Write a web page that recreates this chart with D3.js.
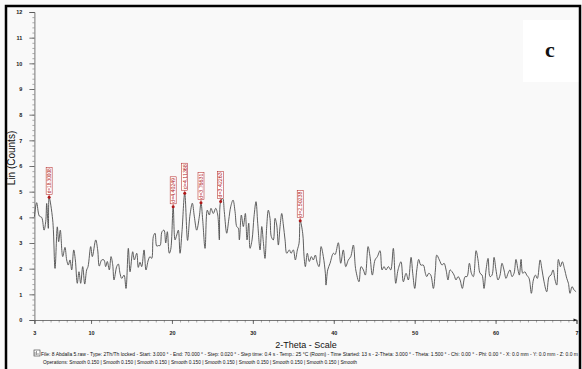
<!DOCTYPE html>
<html>
<head>
<meta charset="utf-8">
<script src="https://cdn.jsdelivr.net/npm/d3@7/dist/d3.min.js"></script>
<style>
  html, body { margin: 0; padding: 0; background: #f9f9f9; }
  svg { display: block; }
  text { font-family: "Liberation Sans", Arial, sans-serif; }
</style>
</head>
<body>
<svg id="chart" width="582" height="369"></svg>
<script>
// Diffraction pattern: 2-theta (degrees) and intensity (Lin counts, thousands)
const twoTheta = [
  3.00, 3.28, 3.61, 3.90, 4.19, 4.40, 4.52, 4.72, 4.82, 5.26, 5.55, 5.83, 6.00, 6.20, 6.50, 6.78,
  6.99, 7.19, 7.40, 7.61, 7.86, 8.06, 8.30, 8.51, 8.72, 8.97, 9.22, 9.46, 9.63, 9.96, 10.16, 10.58,
  10.82, 11.02, 11.32, 11.60, 11.81, 12.01, 12.26, 12.47, 12.68, 12.84, 13.17, 13.37, 13.58, 13.79,
  14.08, 14.32, 14.61, 14.82, 15.15, 15.35, 15.65, 15.84, 16.05, 16.26, 16.55, 16.79, 17.08, 17.29,
  17.50, 17.70, 17.91, 18.12, 18.32, 18.53, 18.77, 19.02, 19.23, 19.43, 19.67, 19.85, 20.15, 20.38,
  20.59, 20.79, 21.00, 21.24, 21.58, 21.93, 22.23, 22.52, 22.77, 23.06, 23.38, 23.59, 23.80, 24.09,
  24.37, 24.62, 24.83, 25.11, 25.41, 25.66, 25.86, 26.02, 26.28, 26.47, 26.77, 27.02, 27.26, 27.55,
  27.80, 28.01, 28.20, 28.33, 28.58, 28.82, 29.07, 29.28, 29.49, 29.65, 29.90, 30.14, 30.39, 30.60,
  30.89, 31.10, 31.29, 31.50, 31.71, 31.91, 32.12, 32.28, 32.53, 32.74, 32.95, 33.15, 33.36, 33.57,
  33.77, 33.98, 34.19, 34.51, 34.72, 35.00, 35.25, 35.50, 35.71, 35.85, 36.16, 36.33, 36.49, 36.73,
  36.98, 37.23, 37.47, 37.72, 37.97, 38.18, 38.43, 38.71, 38.96, 39.04, 39.25, 39.54, 39.95, 40.16,
  40.56, 40.86, 41.18, 41.48, 41.80, 42.10, 42.42, 42.72, 43.12, 43.37, 43.66, 43.90, 44.24, 44.48,
  44.77, 45.10, 45.39, 45.72, 45.97, 46.21, 46.46, 46.75, 47.04, 47.36, 47.66, 47.94, 48.31, 48.60,
  48.93, 49.22, 49.55, 49.76, 50.01, 50.26, 50.50, 50.75, 51.07, 51.32, 51.49, 51.74, 51.99, 52.31,
  52.56, 52.73, 53.05, 53.38, 53.63, 53.88, 54.12, 54.37, 54.62, 54.87, 55.11, 55.36, 55.61, 55.89,
  56.23, 56.47, 56.76, 57.01, 57.25, 57.59, 57.83, 58.08, 58.33, 58.57, 58.82, 59.07, 59.31, 59.56,
  59.81, 60.05, 60.30, 60.55, 60.79, 61.04, 61.29, 61.54, 61.78, 62.03, 62.28, 62.52, 62.77, 62.94,
  63.15, 63.36, 63.61, 63.85, 64.14, 64.42, 64.67, 64.92, 65.16, 65.50, 65.74, 65.99, 66.32, 66.61,
  66.85, 67.10, 67.35, 67.56, 67.76, 68.01, 68.25, 68.50, 68.80, 69.00, 69.20, 69.45, 69.70, 69.95
];
const counts = [
  4.02, 4.57, 4.05, 4.00, 3.50, 3.83, 4.54, 3.57, 4.78, 3.90, 2.01, 3.63, 3.05, 3.50, 2.47, 2.83,
  2.34, 2.14, 2.34, 1.95, 2.73, 2.34, 1.43, 1.88, 1.43, 2.08, 1.40, 1.95, 2.08, 2.86, 2.47, 3.12,
  2.73, 2.10, 2.34, 2.34, 2.08, 2.28, 1.95, 2.47, 2.15, 1.56, 2.08, 2.18, 1.82, 1.62,
  1.75, 1.23, 2.79, 1.88, 2.66, 2.34, 2.60, 2.05, 2.25, 2.08, 2.73, 1.95, 2.34, 2.47,
  2.40, 3.25, 3.38, 2.88, 2.90, 2.90, 3.44, 3.50, 3.00, 3.44, 2.60, 2.75, 4.41, 3.12,
  3.31, 3.50, 2.60, 3.44, 4.94, 3.10, 4.09, 4.55, 4.02, 3.50, 4.02, 4.57, 3.90, 2.79,
  4.28, 4.09, 4.35, 4.15, 4.35, 4.09, 3.12, 4.62, 4.74, 4.22, 3.38, 3.90, 4.41, 4.67,
  4.22, 3.64, 3.58, 3.12, 4.09, 3.64, 4.15, 3.12, 3.77, 2.79, 3.12, 4.02, 4.61, 3.77,
  2.73, 3.64, 3.06, 2.40, 3.63, 4.28, 3.96, 3.25, 3.12, 3.96, 3.70, 2.92, 3.64, 4.15,
  3.70, 3.12, 2.60, 2.73, 2.60, 2.73, 2.34, 2.73, 2.99, 3.87, 3.38, 2.47, 2.08, 2.60,
  2.28, 2.47, 2.34, 2.53, 2.21, 2.08, 2.86, 2.47, 1.82, 1.36, 1.95, 2.21, 2.60, 2.55,
  3.01, 2.21, 2.73, 2.08, 2.34, 2.47, 2.92, 1.95, 1.49, 2.08, 1.95, 1.75, 2.86, 2.47,
  1.75, 2.34, 2.47, 2.70, 1.95, 2.08, 1.95, 2.08, 1.95, 2.79, 1.43, 1.95, 2.27, 1.49,
  1.82, 1.56, 2.44, 1.82, 1.23, 1.95, 2.36, 2.14, 2.14, 1.82, 1.69, 1.82, 1.75, 1.23,
  1.95, 2.53, 2.34, 2.14, 2.21, 1.95, 1.56, 1.95, 1.88, 1.75, 1.56, 1.69, 1.56, 1.23,
  1.69, 1.69, 2.21, 1.82, 1.69, 2.70, 2.34, 1.82, 1.75, 1.23, 1.95, 2.40, 1.69, 1.75,
  2.44, 1.95, 1.56, 1.75, 2.21, 1.95, 1.62, 1.82, 1.95, 1.69, 1.82, 2.36, 1.95, 1.75,
  2.36, 1.82, 1.88, 1.75, 1.62, 1.04, 1.56, 1.75, 1.62, 2.34, 1.95, 1.49, 1.10, 1.69,
  1.75, 1.95, 1.56, 1.36, 2.36, 2.08, 2.27, 2.01, 1.62, 1.43, 1.04, 1.30, 1.17, 1.10
];

// Labelled reflections (d-spacings in Angstrom)
const peakLabels = ["d=18.30008", "d=4.40249", "d=4.11368", "d=3.76631", "d=3.42263", "d=2.50238"];
const peakTheta  = [4.82, 20.15, 21.58, 23.59, 26.02, 35.85];
const peakCounts = [4.78, 4.41, 4.94, 4.57, 4.62, 3.87];

// Axis ticks
const xTickValues = [3, 10, 20, 30, 40, 50, 60, 70];
const xTickLabels = ["3", "10", "20", "30", "40", "50", "60", "7"];
const yTickValues = [0, 1, 2, 3, 4, 5, 6, 7, 8, 9, 10, 11, 12];

const footerLine1 = "File: 8 Abdalla 5.raw - Type: 2Th/Th locked - Start: 3.000 ° - End: 70.000 ° - Step: 0.020 ° - Step time: 0.4 s - Temp.: 25 °C (Room) - Time Started: 13 s - 2-Theta: 3.000 ° - Theta: 1.500 ° - Chi: 0.00 ° - Phi: 0.00 ° - X: 0.0 mm - Y: 0.0 mm - Z: 0.0 m";
const footerLine2 = "Operations: Smooth 0.150 | Smooth 0.150 | Smooth 0.150 | Smooth 0.150 | Smooth 0.150 | Smooth 0.150 | Smooth 0.150 | Smooth 0.150 | Smooth";

const svg = d3.select("#chart");

const x = d3.scaleLinear().domain([3, 70]).range([34.4, 576.5]);
const y = d3.scaleLinear().domain([0, 12]).range([320, 12]);

// panel tag box
svg.append("rect").attr("x", 523).attr("y", 20).attr("width", 57).attr("height", 62).attr("fill", "#ffffff");
svg.append("text").attr("x", 550).attr("y", 57).attr("text-anchor", "middle")
  .style("font-family", "'Liberation Serif', 'DejaVu Serif', serif")
  .style("font-weight", "bold").style("font-size", "22px").attr("fill", "#111").text("c");

// Y axis: major + minor ticks
const yMinor = d3.range(0, 12.001, 0.2);
svg.append("g").attr("transform", `translate(${x(3)},0)`)
  .call(d3.axisLeft(y).tickValues(yMinor).tickSize(2).tickFormat(""))
  .call(g => g.select(".domain").remove())
  .selectAll("line").attr("stroke", "#777").attr("stroke-width", 0.6);
const yAxis = svg.append("g").attr("transform", `translate(${x(3)},0)`)
  .call(d3.axisLeft(y).tickValues(yTickValues).tickSize(5).tickPadding(7).tickFormat(d3.format("d")));
yAxis.select(".domain").attr("stroke", "#555").attr("stroke-width", 0.8);
yAxis.selectAll("line").attr("stroke", "#555").attr("stroke-width", 0.8);
yAxis.selectAll("text").style("font-size", "5.5px").style("font-weight", "bold").attr("fill", "#222");

// X axis: minor every degree, major at labels
const xMinor = d3.range(3, 70.001, 1);
svg.append("g").attr("transform", `translate(0,${y(0)})`)
  .call(d3.axisBottom(x).tickValues(xMinor).tickSize(2.5).tickFormat(""))
  .call(g => g.select(".domain").remove())
  .selectAll("line").attr("stroke", "#777").attr("stroke-width", 0.6);
const xAxis = svg.append("g").attr("transform", `translate(0,${y(0)})`)
  .call(d3.axisBottom(x).tickValues(xTickValues).tickSize(4).tickPadding(7)
    .tickFormat((d, i) => xTickLabels[i]));
xAxis.select(".domain").attr("stroke", "#555").attr("stroke-width", 0.8);
xAxis.selectAll("line").attr("stroke", "#555").attr("stroke-width", 0.8);
xAxis.selectAll("text").style("font-size", "5.5px").style("font-weight", "bold").attr("fill", "#222");
svg.append("path")
  .attr("d", `M${x(70) - 3},${y(0) - 1.6}L${x(70) + 1},${y(0)}L${x(70) - 3},${y(0) + 1.6}Z`)
  .attr("fill", "#222");

// Axis titles
svg.append("text").attr("transform", `translate(15,158) rotate(-90)`)
  .attr("text-anchor", "middle").style("font-size", "10px").attr("fill", "#111").text("Lin (Counts)");
svg.append("text").attr("x", 306).attr("y", 348).attr("text-anchor", "middle")
  .style("font-size", "9px").attr("fill", "#111").text("2-Theta - Scale");

// Pattern trace
const pts = twoTheta.map((t, i) => [t, counts[i]]);
svg.append("path").datum(pts)
  .attr("fill", "none").attr("stroke", "#4d4d4d").attr("stroke-width", 0.9)
  .attr("d", d3.line().x(d => x(d[0])).y(d => y(d[1])).curve(d3.curveCatmullRom.alpha(0.5)));

// Peak markers with rotated d-spacing tags
const tagH = 27, tagW = 6, gap = 3;
const peaks = svg.append("g").selectAll("g").data(peakLabels).join("g")
  .attr("transform", (d, i) => `translate(${x(peakTheta[i])},${y(peakCounts[i])})`);
peaks.append("line").attr("x1", 0).attr("x2", 0).attr("y1", 0).attr("y2", -gap)
  .attr("stroke", "#b01818").attr("stroke-width", 0.6);
peaks.append("rect").attr("x", -tagW / 2).attr("y", -gap - tagH).attr("width", tagW).attr("height", tagH)
  .attr("fill", "#fff").attr("stroke", "#b01818").attr("stroke-width", 0.5);
peaks.append("text").attr("transform", `translate(1.8,${-gap - tagH / 2}) rotate(-90)`)
  .attr("text-anchor", "middle").style("font-size", "5px").attr("fill", "#b01818")
  .attr("textLength", tagH - 2).attr("lengthAdjust", "spacingAndGlyphs").text(d => d);
peaks.append("circle").attr("r", 1.5).attr("fill", "#b01818");

// Footer: scan parameters
const icon = svg.append("g").attr("transform", "translate(34,350)");
icon.append("rect").attr("width", 6).attr("height", 6).attr("fill", "#fff").attr("stroke", "#333").attr("stroke-width", 0.6);
icon.append("path").attr("d", "M1,5V2M2.5,5V1M4,5V3").attr("stroke", "#333").attr("stroke-width", 0.5);
svg.append("text").attr("x", 41).attr("y", 356).style("font-size", "5px").attr("fill", "#111")
  .attr("textLength", 537).attr("lengthAdjust", "spacingAndGlyphs").text(footerLine1);
svg.append("text").attr("x", 43).attr("y", 364).style("font-size", "5px").attr("fill", "#111")
  .attr("textLength", 314).attr("lengthAdjust", "spacingAndGlyphs").text(footerLine2);

// Outer frame
svg.append("rect").attr("x", 6).attr("y", 6).attr("width", 574).attr("height", 370)
  .attr("fill", "none").attr("stroke", "#000").attr("stroke-width", 2.5);
</script>
</body>
</html>
